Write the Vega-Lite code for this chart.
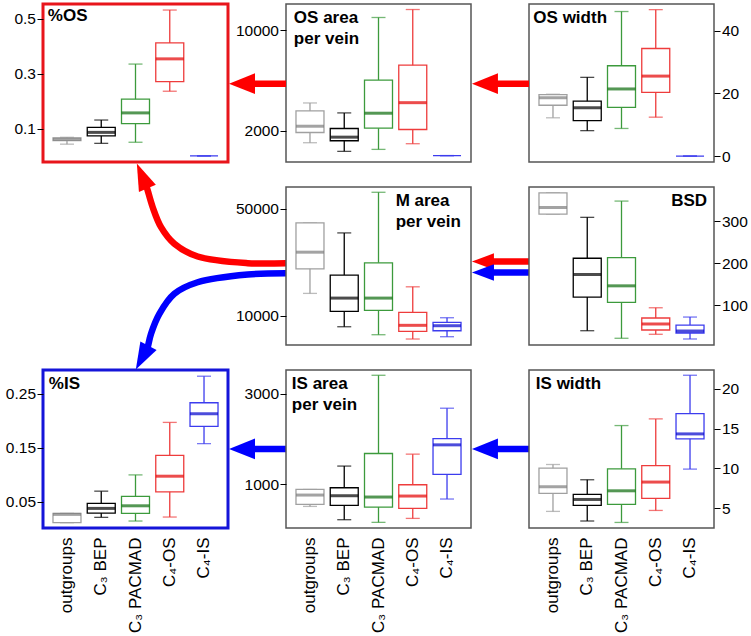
{
"$schema":"https://vega.github.io/schema/vega-lite/v6.json",
"padding":{"left":3,"top":2,"right":3,"bottom":1},
"background":"white",
"bounds":"flush",
"columns":3,
"spacing":{"row":25,"column":58},
"config":{
 "font":"Liberation Sans",
 "view":{"stroke":"#555555","strokeWidth":1.5},
 "axis":{"labelFont":"Liberation Sans","labelFontSize":15.5,"labelColor":"#000000","tickColor":"#000000","tickSize":6,"tickWidth":1,"labelPadding":1.5,"domain":false,"grid":false,"title":null},
 "text":{"font":"Liberation Sans","fontSize":17,"fontWeight":"bold","color":"#000000","baseline":"top","lineBreak":"\n","lineHeight":21}
},
"datasets":{
 "boxes":[
  {"panel":"pOS","group":"outgroups","lo":0.043,"q1":0.056,"med":0.061,"q3":0.066,"hi":0.068},
  {"panel":"pOS","group":"C₃ BEP","lo":0.046,"q1":0.073,"med":0.086,"q3":0.104,"hi":0.131},
  {"panel":"pOS","group":"C₃ PACMAD","lo":0.050,"q1":0.118,"med":0.157,"q3":0.207,"hi":0.335},
  {"panel":"pOS","group":"C₄-OS","lo":0.236,"q1":0.271,"med":0.354,"q3":0.412,"hi":0.532},
  {"panel":"pOS","group":"C₄-IS","lo":0,"q1":0,"med":null,"q3":0,"hi":0},
  {"panel":"aOS","group":"outgroups","lo":1026,"q1":1842,"med":2341,"q3":3560,"hi":4194},
  {"panel":"aOS","group":"C₃ BEP","lo":337,"q1":1184,"med":1470,"q3":2158,"hi":3402},
  {"panel":"aOS","group":"C₃ PACMAD","lo":495,"q1":2185,"med":3378,"q3":6015,"hi":11005},
  {"panel":"aOS","group":"C₄-OS","lo":947,"q1":2079,"med":4218,"q3":7203,"hi":11640},
  {"panel":"aOS","group":"C₄-IS","lo":0,"q1":0,"med":null,"q3":0,"hi":0},
  {"panel":"wOS","group":"outgroups","lo":12.2,"q1":16.2,"med":18.6,"q3":19.6,"hi":19.7},
  {"panel":"wOS","group":"C₃ BEP","lo":8.1,"q1":11.3,"med":15.4,"q3":17.5,"hi":25.1},
  {"panel":"wOS","group":"C₃ PACMAD","lo":8.8,"q1":15.5,"med":21.4,"q3":28.8,"hi":46.1},
  {"panel":"wOS","group":"C₄-OS","lo":12.4,"q1":20.3,"med":25.5,"q3":34.3,"hi":46.7},
  {"panel":"wOS","group":"C₄-IS","lo":0,"q1":0,"med":null,"q3":0,"hi":0},
  {"panel":"aM","group":"outgroups","lo":18340,"q1":27500,"med":33720,"q3":44630,"hi":44630},
  {"panel":"aM","group":"C₃ BEP","lo":5900,"q1":11640,"med":16590,"q3":25160,"hi":40910},
  {"panel":"aM","group":"C₃ PACMAD","lo":2925,"q1":12010,"med":16590,"q3":29740,"hi":56070},
  {"panel":"aM","group":"C₄-OS","lo":1320,"q1":4190,"med":6430,"q3":11270,"hi":20800},
  {"panel":"aM","group":"C₄-IS","lo":2180,"q1":4410,"med":6280,"q3":7540,"hi":9260},
  {"panel":"bsd","group":"outgroups","lo":316.6,"q1":316.6,"med":332.5,"q3":367,"hi":367},
  {"panel":"bsd","group":"C₃ BEP","lo":39,"q1":119,"med":172.8,"q3":211.5,"hi":308.8},
  {"panel":"bsd","group":"C₃ PACMAD","lo":21,"q1":106.4,"med":145.8,"q3":213,"hi":347.5},
  {"panel":"bsd","group":"C₄-OS","lo":30.5,"q1":40.7,"med":55,"q3":69.2,"hi":93.6},
  {"panel":"bsd","group":"C₄-IS","lo":19.3,"q1":33.6,"med":38.3,"q3":52.5,"hi":71.5},
  {"panel":"pIS","group":"outgroups","lo":0.0113,"q1":0.0113,"med":0.0267,"q3":0.0286,"hi":0.0286},
  {"panel":"pIS","group":"C₃ BEP","lo":0.0212,"q1":0.0291,"med":0.0378,"q3":0.047,"hi":0.0697},
  {"panel":"pIS","group":"C₃ PACMAD","lo":0.0144,"q1":0.0286,"med":0.0426,"q3":0.060,"hi":0.0998},
  {"panel":"pIS","group":"C₄-OS","lo":0.0218,"q1":0.0685,"med":0.0974,"q3":0.136,"hi":0.197},
  {"panel":"pIS","group":"C₄-IS","lo":0.1577,"q1":0.1897,"med":0.213,"q3":0.2334,"hi":0.2825},
  {"panel":"aIS","group":"outgroups","lo":504,"q1":548,"med":756,"q3":880,"hi":880},
  {"panel":"aIS","group":"C₃ BEP","lo":209,"q1":526,"med":741,"q3":918,"hi":1399},
  {"panel":"aIS","group":"C₃ PACMAD","lo":150,"q1":490,"med":712,"q3":1678,"hi":3414},
  {"panel":"aIS","group":"C₄-OS","lo":238,"q1":460,"med":734,"q3":985,"hi":1664},
  {"panel":"aIS","group":"C₄-IS","lo":668,"q1":1213,"med":1870,"q3":2010,"hi":2683},
  {"panel":"wIS","group":"outgroups","lo":4.58,"q1":6.84,"med":7.68,"q3":10.02,"hi":10.48},
  {"panel":"wIS","group":"C₃ BEP","lo":3.37,"q1":5.33,"med":6.08,"q3":6.71,"hi":8.56},
  {"panel":"wIS","group":"C₃ PACMAD","lo":3.19,"q1":5.45,"med":7.17,"q3":9.94,"hi":15.38},
  {"panel":"wIS","group":"C₄-OS","lo":4.70,"q1":6.21,"med":8.27,"q3":10.35,"hi":16.22},
  {"panel":"wIS","group":"C₄-IS","lo":9.90,"q1":13.71,"med":14.33,"q3":16.89,"hi":21.71}
 ],
 "labels":[
  {"panel":"pOS","anchor":"outgroups","label":"%OS"},
  {"panel":"aOS","anchor":"outgroups","label":"OS area\nper vein"},
  {"panel":"wOS","anchor":"outgroups","label":"OS width"},
  {"panel":"aM","anchor":"C₄-OS","label":"M area\nper vein"},
  {"panel":"bsd","anchor":"C₄-IS","label":"BSD"},
  {"panel":"pIS","anchor":"outgroups","label":"%IS"},
  {"panel":"aIS","anchor":"outgroups","label":"IS area\nper vein"},
  {"panel":"wIS","anchor":"outgroups","label":"IS width"}
 ],
 "arrowLines":[
  {"arrow":"tL","hue":"red","seq":1,"x":1.3135,"y":1.654},
  {"arrow":"tL","hue":"red","seq":2,"x":1.108,"y":1.654},
  {"arrow":"tR","hue":"red","seq":1,"x":2.627,"y":1.654},
  {"arrow":"tR","hue":"red","seq":2,"x":2.42,"y":1.654},
  {"arrow":"mR","hue":"red","seq":1,"x":2.627,"y":0.528},
  {"arrow":"mR","hue":"red","seq":2,"x":2.42,"y":0.528},
  {"arrow":"mB","hue":"blue","seq":1,"x":2.627,"y":0.459},
  {"arrow":"mB","hue":"blue","seq":2,"x":2.42,"y":0.459},
  {"arrow":"bL","hue":"blue","seq":1,"x":1.3135,"y":-0.658},
  {"arrow":"bL","hue":"blue","seq":2,"x":1.108,"y":-0.658},
  {"arrow":"bR","hue":"blue","seq":1,"x":2.627,"y":-0.658},
  {"arrow":"bR","hue":"blue","seq":2,"x":2.42,"y":-0.658},
  {"arrow":"cR","hue":"red","seq":1,"x":1.3135,"y":0.518},
  {"arrow":"cR","hue":"red","seq":2,"x":1.1065,"y":0.518},
  {"arrow":"cR","hue":"red","seq":3,"x":0.836,"y":0.560},
  {"arrow":"cR","hue":"red","seq":4,"x":0.710,"y":0.641},
  {"arrow":"cR","hue":"red","seq":5,"x":0.638,"y":0.746},
  {"arrow":"cR","hue":"red","seq":6,"x":0.593,"y":0.872},
  {"arrow":"cR","hue":"red","seq":7,"x":0.566,"y":0.978},
  {"arrow":"cR","hue":"red","seq":8,"x":0.558,"y":1.01},
  {"arrow":"cB","hue":"blue","seq":1,"x":1.3135,"y":0.454},
  {"arrow":"cB","hue":"blue","seq":2,"x":1.1065,"y":0.446},
  {"arrow":"cB","hue":"blue","seq":3,"x":0.836,"y":0.397},
  {"arrow":"cB","hue":"blue","seq":4,"x":0.710,"y":0.324},
  {"arrow":"cB","hue":"blue","seq":5,"x":0.629,"y":0.197},
  {"arrow":"cB","hue":"blue","seq":6,"x":0.584,"y":0.071},
  {"arrow":"cB","hue":"blue","seq":7,"x":0.566,"y":-0.014},
  {"arrow":"cB","hue":"blue","seq":8,"x":0.560,"y":-0.035}
 ],
 "arrowHeads":[
  {"head":"tL","hue":"red","kind":"left","x":1.0757,"y":1.654},
  {"head":"tR","hue":"red","kind":"left","x":2.389,"y":1.654},
  {"head":"mR","hue":"red","kind":"leftSmall","x":2.378,"y":0.528},
  {"head":"mB","hue":"blue","kind":"leftSmall","x":2.378,"y":0.459},
  {"head":"bL","hue":"blue","kind":"left","x":1.0757,"y":-0.658},
  {"head":"bR","hue":"blue","kind":"left","x":2.389,"y":-0.658},
  {"head":"cR","hue":"red","kind":"upCurve","x":0.5357,"y":1.070},
  {"head":"cB","hue":"blue","kind":"downCurve","x":0.536,"y":-0.080}
 ]
},
"concat":[
 {
  "width":185,"height":158,
  "view":{"stroke":"#e8151b","strokeWidth":3},
  "data":{"name":"boxes"},
  "transform":[{"filter":"datum.panel === 'pOS'"}],
  "encoding":{"x":{"field":"group","type":"nominal","sort":["outgroups","C₃ BEP","C₃ PACMAD","C₄-OS","C₄-IS"],"scale":{"type":"band","domain":["outgroups","C₃ BEP","C₃ PACMAD","C₄-OS","C₄-IS"],"paddingInner":0,"paddingOuter":0.2},"axis":null}},
  "layer":[
   {"mark":{"type":"rule","strokeWidth":1.3},"encoding":{"y":{"field":"lo","type":"quantitative","scale":{"domain":[-0.022,0.554],"nice":false,"zero":false},"axis":{"orient":"left","values":[0.1,0.3,0.5],"format":".1f","title":null}},"y2":{"field":"hi"},"color":{"field":"group","type":"nominal","scale":{"domain":["outgroups","C₃ BEP","C₃ PACMAD","C₄-OS","C₄-IS"],"range":["#a0a0a0","#000000","#3c9a3c","#ee3c3c","#3c3cee"]},"legend":null}}},
   {"mark":{"type":"tick","size":14,"thickness":1.3},"encoding":{"y":{"field":"lo","type":"quantitative"},"color":{"field":"group","type":"nominal","scale":{"domain":["outgroups","C₃ BEP","C₃ PACMAD","C₄-OS","C₄-IS"],"range":["#a0a0a0","#000000","#3c9a3c","#ee3c3c","#3c3cee"]},"legend":null}}},
   {"mark":{"type":"tick","size":14,"thickness":1.3},"encoding":{"y":{"field":"hi","type":"quantitative"},"color":{"field":"group","type":"nominal","scale":{"domain":["outgroups","C₃ BEP","C₃ PACMAD","C₄-OS","C₄-IS"],"range":["#a0a0a0","#000000","#3c9a3c","#ee3c3c","#3c3cee"]},"legend":null}}},
   {"mark":{"type":"bar","size":28,"fill":"#ffffff","strokeWidth":1.3},"encoding":{"y":{"field":"q1","type":"quantitative"},"y2":{"field":"q3"},"stroke":{"field":"group","type":"nominal","scale":{"domain":["outgroups","C₃ BEP","C₃ PACMAD","C₄-OS","C₄-IS"],"range":["#a0a0a0","#000000","#3c9a3c","#ee3c3c","#3c3cee"]},"legend":null}}},
   {"mark":{"type":"tick","size":28,"thickness":3},"encoding":{"y":{"field":"med","type":"quantitative"},"color":{"field":"group","type":"nominal","scale":{"domain":["outgroups","C₃ BEP","C₃ PACMAD","C₄-OS","C₄-IS"],"range":["#7c7c7c","#000000","#0b6b0b","#e40000","#0000cc"]},"legend":null}}},
   {"data":{"name":"labels"},"transform":[{"filter":"datum.panel === 'pOS'"}],"mark":{"type":"text","align":"left","dx":-2,"dy":4},"encoding":{"x":{"field":"anchor","type":"nominal","bandPosition":0},"y":{"datum":0.554,"type":"quantitative"},"text":{"field":"label"}}}
  ],
  "resolve":{"scale":{"color":"independent"}}
 },
 {
  "width":185,"height":158,
  "data":{"name":"boxes"},
  "transform":[{"filter":"datum.panel === 'aOS'"}],
  "encoding":{"x":{"field":"group","type":"nominal","sort":["outgroups","C₃ BEP","C₃ PACMAD","C₄-OS","C₄-IS"],"scale":{"type":"band","domain":["outgroups","C₃ BEP","C₃ PACMAD","C₄-OS","C₄-IS"],"paddingInner":0,"paddingOuter":0.2},"axis":null}},
  "layer":[
   {"mark":{"type":"rule","strokeWidth":1.3},"encoding":{"y":{"field":"lo","type":"quantitative","scale":{"domain":[-510,12080],"nice":false,"zero":false},"axis":{"orient":"left","values":[2000,10000],"format":"d","title":null}},"y2":{"field":"hi"},"color":{"field":"group","type":"nominal","scale":{"domain":["outgroups","C₃ BEP","C₃ PACMAD","C₄-OS","C₄-IS"],"range":["#a0a0a0","#000000","#3c9a3c","#ee3c3c","#3c3cee"]},"legend":null}}},
   {"mark":{"type":"tick","size":14,"thickness":1.3},"encoding":{"y":{"field":"lo","type":"quantitative"},"color":{"field":"group","type":"nominal","scale":{"domain":["outgroups","C₃ BEP","C₃ PACMAD","C₄-OS","C₄-IS"],"range":["#a0a0a0","#000000","#3c9a3c","#ee3c3c","#3c3cee"]},"legend":null}}},
   {"mark":{"type":"tick","size":14,"thickness":1.3},"encoding":{"y":{"field":"hi","type":"quantitative"},"color":{"field":"group","type":"nominal","scale":{"domain":["outgroups","C₃ BEP","C₃ PACMAD","C₄-OS","C₄-IS"],"range":["#a0a0a0","#000000","#3c9a3c","#ee3c3c","#3c3cee"]},"legend":null}}},
   {"mark":{"type":"bar","size":28,"fill":"#ffffff","strokeWidth":1.3},"encoding":{"y":{"field":"q1","type":"quantitative"},"y2":{"field":"q3"},"stroke":{"field":"group","type":"nominal","scale":{"domain":["outgroups","C₃ BEP","C₃ PACMAD","C₄-OS","C₄-IS"],"range":["#a0a0a0","#000000","#3c9a3c","#ee3c3c","#3c3cee"]},"legend":null}}},
   {"mark":{"type":"tick","size":28,"thickness":3},"encoding":{"y":{"field":"med","type":"quantitative"},"color":{"field":"group","type":"nominal","scale":{"domain":["outgroups","C₃ BEP","C₃ PACMAD","C₄-OS","C₄-IS"],"range":["#7c7c7c","#000000","#0b6b0b","#e40000","#0000cc"]},"legend":null}}},
   {"data":{"name":"labels"},"transform":[{"filter":"datum.panel === 'aOS'"}],"mark":{"type":"text","align":"left","dx":1,"dy":6},"encoding":{"x":{"field":"anchor","type":"nominal","bandPosition":0},"y":{"datum":12080,"type":"quantitative"},"text":{"field":"label"}}}
  ],
  "resolve":{"scale":{"color":"independent"}}
 },
 {
  "width":185,"height":158,
  "data":{"name":"boxes"},
  "transform":[{"filter":"datum.panel === 'wOS'"}],
  "encoding":{"x":{"field":"group","type":"nominal","sort":["outgroups","C₃ BEP","C₃ PACMAD","C₄-OS","C₄-IS"],"scale":{"type":"band","domain":["outgroups","C₃ BEP","C₃ PACMAD","C₄-OS","C₄-IS"],"paddingInner":0,"paddingOuter":0.2},"axis":null}},
  "layer":[
   {"mark":{"type":"rule","strokeWidth":1.3},"encoding":{"y":{"field":"lo","type":"quantitative","scale":{"domain":[-1.9,48.5],"nice":false,"zero":false},"axis":{"orient":"right","values":[0,20,40],"format":"d","title":null}},"y2":{"field":"hi"},"color":{"field":"group","type":"nominal","scale":{"domain":["outgroups","C₃ BEP","C₃ PACMAD","C₄-OS","C₄-IS"],"range":["#a0a0a0","#000000","#3c9a3c","#ee3c3c","#3c3cee"]},"legend":null}}},
   {"mark":{"type":"tick","size":14,"thickness":1.3},"encoding":{"y":{"field":"lo","type":"quantitative"},"color":{"field":"group","type":"nominal","scale":{"domain":["outgroups","C₃ BEP","C₃ PACMAD","C₄-OS","C₄-IS"],"range":["#a0a0a0","#000000","#3c9a3c","#ee3c3c","#3c3cee"]},"legend":null}}},
   {"mark":{"type":"tick","size":14,"thickness":1.3},"encoding":{"y":{"field":"hi","type":"quantitative"},"color":{"field":"group","type":"nominal","scale":{"domain":["outgroups","C₃ BEP","C₃ PACMAD","C₄-OS","C₄-IS"],"range":["#a0a0a0","#000000","#3c9a3c","#ee3c3c","#3c3cee"]},"legend":null}}},
   {"mark":{"type":"bar","size":28,"fill":"#ffffff","strokeWidth":1.3},"encoding":{"y":{"field":"q1","type":"quantitative"},"y2":{"field":"q3"},"stroke":{"field":"group","type":"nominal","scale":{"domain":["outgroups","C₃ BEP","C₃ PACMAD","C₄-OS","C₄-IS"],"range":["#a0a0a0","#000000","#3c9a3c","#ee3c3c","#3c3cee"]},"legend":null}}},
   {"mark":{"type":"tick","size":28,"thickness":3},"encoding":{"y":{"field":"med","type":"quantitative"},"color":{"field":"group","type":"nominal","scale":{"domain":["outgroups","C₃ BEP","C₃ PACMAD","C₄-OS","C₄-IS"],"range":["#7c7c7c","#000000","#0b6b0b","#e40000","#0000cc"]},"legend":null}}},
   {"data":{"name":"labels"},"transform":[{"filter":"datum.panel === 'wOS'"}],"mark":{"type":"text","align":"left","dx":-2.5,"dy":6},"encoding":{"x":{"field":"anchor","type":"nominal","bandPosition":0},"y":{"datum":48.5,"type":"quantitative"},"text":{"field":"label"}}}
  ],
  "resolve":{"scale":{"color":"independent"}}
 },
 {
  "width":185,"height":158,
  "view":{"stroke":null},
  "layer":[
   {"data":{"name":"arrowLines"},"mark":{"type":"line","strokeWidth":6.5,"interpolate":"catmull-rom","strokeCap":"butt"},
    "encoding":{"x":{"field":"x","type":"quantitative","scale":{"domain":[0,1],"nice":false,"zero":false},"axis":null},"y":{"field":"y","type":"quantitative","scale":{"domain":[0,1],"nice":false,"zero":false},"axis":null},"detail":{"field":"arrow","type":"nominal"},"order":{"field":"seq","type":"quantitative"},"color":{"field":"hue","type":"nominal","scale":{"domain":["red","blue"],"range":["#ff0000","#0000ff"]},"legend":null}}},
   {"data":{"name":"arrowHeads"},"transform":[{"filter":"datum.kind === 'left'"}],"mark":{"type":"point","shape":"M-1,0L1,-0.8L1,0.8Z","filled":true,"opacity":1,"size":676,"strokeWidth":0},
    "encoding":{"x":{"field":"x","type":"quantitative"},"y":{"field":"y","type":"quantitative"},"color":{"field":"hue","type":"nominal","scale":{"domain":["red","blue"],"range":["#ff0000","#0000ff"]},"legend":null}}},
   {"data":{"name":"arrowHeads"},"transform":[{"filter":"datum.kind === 'leftSmall'"}],"mark":{"type":"point","shape":"M-1,0L1,-0.75L1,0.75Z","filled":true,"opacity":1,"size":484,"strokeWidth":0},
    "encoding":{"x":{"field":"x","type":"quantitative"},"y":{"field":"y","type":"quantitative"},"color":{"field":"hue","type":"nominal","scale":{"domain":["red","blue"],"range":["#ff0000","#0000ff"]},"legend":null}}},
   {"data":{"name":"arrowHeads"},"transform":[{"filter":"datum.kind === 'upCurve'"}],"mark":{"type":"point","shape":"M0,-1L0.68,1L-0.68,1Z","filled":true,"opacity":1,"size":729,"strokeWidth":0,"angle":-23},
    "encoding":{"x":{"field":"x","type":"quantitative"},"y":{"field":"y","type":"quantitative"},"color":{"field":"hue","type":"nominal","scale":{"domain":["red","blue"],"range":["#ff0000","#0000ff"]},"legend":null}}},
   {"data":{"name":"arrowHeads"},"transform":[{"filter":"datum.kind === 'downCurve'"}],"mark":{"type":"point","shape":"M0,-1L0.68,1L-0.68,1Z","filled":true,"opacity":1,"size":729,"strokeWidth":0,"angle":208},
    "encoding":{"x":{"field":"x","type":"quantitative"},"y":{"field":"y","type":"quantitative"},"color":{"field":"hue","type":"nominal","scale":{"domain":["red","blue"],"range":["#ff0000","#0000ff"]},"legend":null}}}
  ]
 },
 {
  "width":185,"height":158,
  "data":{"name":"boxes"},
  "transform":[{"filter":"datum.panel === 'aM'"}],
  "encoding":{"x":{"field":"group","type":"nominal","sort":["outgroups","C₃ BEP","C₃ PACMAD","C₄-OS","C₄-IS"],"scale":{"type":"band","domain":["outgroups","C₃ BEP","C₃ PACMAD","C₄-OS","C₄-IS"],"paddingInner":0,"paddingOuter":0.2},"axis":null}},
  "layer":[
   {"mark":{"type":"rule","strokeWidth":1.3},"encoding":{"y":{"field":"lo","type":"quantitative","scale":{"domain":[-911,58040],"nice":false,"zero":false},"axis":{"orient":"left","values":[10000,50000],"format":"d","title":null}},"y2":{"field":"hi"},"color":{"field":"group","type":"nominal","scale":{"domain":["outgroups","C₃ BEP","C₃ PACMAD","C₄-OS","C₄-IS"],"range":["#a0a0a0","#000000","#3c9a3c","#ee3c3c","#3c3cee"]},"legend":null}}},
   {"mark":{"type":"tick","size":14,"thickness":1.3},"encoding":{"y":{"field":"lo","type":"quantitative"},"color":{"field":"group","type":"nominal","scale":{"domain":["outgroups","C₃ BEP","C₃ PACMAD","C₄-OS","C₄-IS"],"range":["#a0a0a0","#000000","#3c9a3c","#ee3c3c","#3c3cee"]},"legend":null}}},
   {"mark":{"type":"tick","size":14,"thickness":1.3},"encoding":{"y":{"field":"hi","type":"quantitative"},"color":{"field":"group","type":"nominal","scale":{"domain":["outgroups","C₃ BEP","C₃ PACMAD","C₄-OS","C₄-IS"],"range":["#a0a0a0","#000000","#3c9a3c","#ee3c3c","#3c3cee"]},"legend":null}}},
   {"mark":{"type":"bar","size":28,"fill":"#ffffff","strokeWidth":1.3},"encoding":{"y":{"field":"q1","type":"quantitative"},"y2":{"field":"q3"},"stroke":{"field":"group","type":"nominal","scale":{"domain":["outgroups","C₃ BEP","C₃ PACMAD","C₄-OS","C₄-IS"],"range":["#a0a0a0","#000000","#3c9a3c","#ee3c3c","#3c3cee"]},"legend":null}}},
   {"mark":{"type":"tick","size":28,"thickness":3},"encoding":{"y":{"field":"med","type":"quantitative"},"color":{"field":"group","type":"nominal","scale":{"domain":["outgroups","C₃ BEP","C₃ PACMAD","C₄-OS","C₄-IS"],"range":["#7c7c7c","#000000","#0b6b0b","#e40000","#0000cc"]},"legend":null}}},
   {"data":{"name":"labels"},"transform":[{"filter":"datum.panel === 'aM'"}],"mark":{"type":"text","align":"left","dx":0,"dy":6},"encoding":{"x":{"field":"anchor","type":"nominal","bandPosition":0},"y":{"datum":58040,"type":"quantitative"},"text":{"field":"label"}}}
  ],
  "resolve":{"scale":{"color":"independent"}}
 },
 {
  "width":185,"height":158,
  "data":{"name":"boxes"},
  "transform":[{"filter":"datum.panel === 'bsd'"}],
  "encoding":{"x":{"field":"group","type":"nominal","sort":["outgroups","C₃ BEP","C₃ PACMAD","C₄-OS","C₄-IS"],"scale":{"type":"band","domain":["outgroups","C₃ BEP","C₃ PACMAD","C₄-OS","C₄-IS"],"paddingInner":0,"paddingOuter":0.2},"axis":null}},
  "layer":[
   {"mark":{"type":"rule","strokeWidth":1.3},"encoding":{"y":{"field":"lo","type":"quantitative","scale":{"domain":[5,381],"nice":false,"zero":false},"axis":{"orient":"right","values":[100,200,300],"format":"d","title":null}},"y2":{"field":"hi"},"color":{"field":"group","type":"nominal","scale":{"domain":["outgroups","C₃ BEP","C₃ PACMAD","C₄-OS","C₄-IS"],"range":["#a0a0a0","#000000","#3c9a3c","#ee3c3c","#3c3cee"]},"legend":null}}},
   {"mark":{"type":"tick","size":14,"thickness":1.3},"encoding":{"y":{"field":"lo","type":"quantitative"},"color":{"field":"group","type":"nominal","scale":{"domain":["outgroups","C₃ BEP","C₃ PACMAD","C₄-OS","C₄-IS"],"range":["#a0a0a0","#000000","#3c9a3c","#ee3c3c","#3c3cee"]},"legend":null}}},
   {"mark":{"type":"tick","size":14,"thickness":1.3},"encoding":{"y":{"field":"hi","type":"quantitative"},"color":{"field":"group","type":"nominal","scale":{"domain":["outgroups","C₃ BEP","C₃ PACMAD","C₄-OS","C₄-IS"],"range":["#a0a0a0","#000000","#3c9a3c","#ee3c3c","#3c3cee"]},"legend":null}}},
   {"mark":{"type":"bar","size":28,"fill":"#ffffff","strokeWidth":1.3},"encoding":{"y":{"field":"q1","type":"quantitative"},"y2":{"field":"q3"},"stroke":{"field":"group","type":"nominal","scale":{"domain":["outgroups","C₃ BEP","C₃ PACMAD","C₄-OS","C₄-IS"],"range":["#a0a0a0","#000000","#3c9a3c","#ee3c3c","#3c3cee"]},"legend":null}}},
   {"mark":{"type":"tick","size":28,"thickness":3},"encoding":{"y":{"field":"med","type":"quantitative"},"color":{"field":"group","type":"nominal","scale":{"domain":["outgroups","C₃ BEP","C₃ PACMAD","C₄-OS","C₄-IS"],"range":["#7c7c7c","#000000","#0b6b0b","#e40000","#0000cc"]},"legend":null}}},
   {"data":{"name":"labels"},"transform":[{"filter":"datum.panel === 'bsd'"}],"mark":{"type":"text","align":"right","dx":0,"dy":6},"encoding":{"x":{"field":"anchor","type":"nominal","bandPosition":1},"y":{"datum":381,"type":"quantitative"},"text":{"field":"label"}}}
  ],
  "resolve":{"scale":{"color":"independent"}}
 },
 {
  "width":185,"height":158,
  "view":{"stroke":"#1515d9","strokeWidth":3},
  "data":{"name":"boxes"},
  "transform":[{"filter":"datum.panel === 'pIS'"}],
  "encoding":{"x":{"field":"group","type":"nominal","sort":["outgroups","C₃ BEP","C₃ PACMAD","C₄-OS","C₄-IS"],"scale":{"type":"band","domain":["outgroups","C₃ BEP","C₃ PACMAD","C₄-OS","C₄-IS"],"paddingInner":0,"paddingOuter":0.2},"axis":{"orient":"bottom","labelAngle":270,"labelFontSize":17,"ticks":false,"tickSize":0,"labelPadding":9,"title":null}}},
  "layer":[
   {"mark":{"type":"rule","strokeWidth":1.3},"encoding":{"y":{"field":"lo","type":"quantitative","scale":{"domain":[0.0015,0.294],"nice":false,"zero":false},"axis":{"orient":"left","values":[0.05,0.15,0.25],"format":".2f","title":null}},"y2":{"field":"hi"},"color":{"field":"group","type":"nominal","scale":{"domain":["outgroups","C₃ BEP","C₃ PACMAD","C₄-OS","C₄-IS"],"range":["#a0a0a0","#000000","#3c9a3c","#ee3c3c","#3c3cee"]},"legend":null}}},
   {"mark":{"type":"tick","size":14,"thickness":1.3},"encoding":{"y":{"field":"lo","type":"quantitative"},"color":{"field":"group","type":"nominal","scale":{"domain":["outgroups","C₃ BEP","C₃ PACMAD","C₄-OS","C₄-IS"],"range":["#a0a0a0","#000000","#3c9a3c","#ee3c3c","#3c3cee"]},"legend":null}}},
   {"mark":{"type":"tick","size":14,"thickness":1.3},"encoding":{"y":{"field":"hi","type":"quantitative"},"color":{"field":"group","type":"nominal","scale":{"domain":["outgroups","C₃ BEP","C₃ PACMAD","C₄-OS","C₄-IS"],"range":["#a0a0a0","#000000","#3c9a3c","#ee3c3c","#3c3cee"]},"legend":null}}},
   {"mark":{"type":"bar","size":28,"fill":"#ffffff","strokeWidth":1.3},"encoding":{"y":{"field":"q1","type":"quantitative"},"y2":{"field":"q3"},"stroke":{"field":"group","type":"nominal","scale":{"domain":["outgroups","C₃ BEP","C₃ PACMAD","C₄-OS","C₄-IS"],"range":["#a0a0a0","#000000","#3c9a3c","#ee3c3c","#3c3cee"]},"legend":null}}},
   {"mark":{"type":"tick","size":28,"thickness":3},"encoding":{"y":{"field":"med","type":"quantitative"},"color":{"field":"group","type":"nominal","scale":{"domain":["outgroups","C₃ BEP","C₃ PACMAD","C₄-OS","C₄-IS"],"range":["#7c7c7c","#000000","#0b6b0b","#e40000","#0000cc"]},"legend":null}}},
   {"data":{"name":"labels"},"transform":[{"filter":"datum.panel === 'pIS'"}],"mark":{"type":"text","align":"left","dx":-1,"dy":6},"encoding":{"x":{"field":"anchor","type":"nominal","bandPosition":0},"y":{"datum":0.294,"type":"quantitative"},"text":{"field":"label"}}}
  ],
  "resolve":{"scale":{"color":"independent"}}
 },
 {
  "width":185,"height":158,
  "data":{"name":"boxes"},
  "transform":[{"filter":"datum.panel === 'aIS'"}],
  "encoding":{"x":{"field":"group","type":"nominal","sort":["outgroups","C₃ BEP","C₃ PACMAD","C₄-OS","C₄-IS"],"scale":{"type":"band","domain":["outgroups","C₃ BEP","C₃ PACMAD","C₄-OS","C₄-IS"],"paddingInner":0,"paddingOuter":0.2},"axis":{"orient":"bottom","labelAngle":270,"labelFontSize":17,"ticks":false,"tickSize":0,"labelPadding":9,"title":null}}},
  "layer":[
   {"mark":{"type":"rule","strokeWidth":1.3},"encoding":{"y":{"field":"lo","type":"quantitative","scale":{"domain":[25,3531],"nice":false,"zero":false},"axis":{"orient":"left","values":[1000,3000],"format":"d","title":null}},"y2":{"field":"hi"},"color":{"field":"group","type":"nominal","scale":{"domain":["outgroups","C₃ BEP","C₃ PACMAD","C₄-OS","C₄-IS"],"range":["#a0a0a0","#000000","#3c9a3c","#ee3c3c","#3c3cee"]},"legend":null}}},
   {"mark":{"type":"tick","size":14,"thickness":1.3},"encoding":{"y":{"field":"lo","type":"quantitative"},"color":{"field":"group","type":"nominal","scale":{"domain":["outgroups","C₃ BEP","C₃ PACMAD","C₄-OS","C₄-IS"],"range":["#a0a0a0","#000000","#3c9a3c","#ee3c3c","#3c3cee"]},"legend":null}}},
   {"mark":{"type":"tick","size":14,"thickness":1.3},"encoding":{"y":{"field":"hi","type":"quantitative"},"color":{"field":"group","type":"nominal","scale":{"domain":["outgroups","C₃ BEP","C₃ PACMAD","C₄-OS","C₄-IS"],"range":["#a0a0a0","#000000","#3c9a3c","#ee3c3c","#3c3cee"]},"legend":null}}},
   {"mark":{"type":"bar","size":28,"fill":"#ffffff","strokeWidth":1.3},"encoding":{"y":{"field":"q1","type":"quantitative"},"y2":{"field":"q3"},"stroke":{"field":"group","type":"nominal","scale":{"domain":["outgroups","C₃ BEP","C₃ PACMAD","C₄-OS","C₄-IS"],"range":["#a0a0a0","#000000","#3c9a3c","#ee3c3c","#3c3cee"]},"legend":null}}},
   {"mark":{"type":"tick","size":28,"thickness":3},"encoding":{"y":{"field":"med","type":"quantitative"},"color":{"field":"group","type":"nominal","scale":{"domain":["outgroups","C₃ BEP","C₃ PACMAD","C₄-OS","C₄-IS"],"range":["#7c7c7c","#000000","#0b6b0b","#e40000","#0000cc"]},"legend":null}}},
   {"data":{"name":"labels"},"transform":[{"filter":"datum.panel === 'aIS'"}],"mark":{"type":"text","align":"left","dx":-1,"dy":6},"encoding":{"x":{"field":"anchor","type":"nominal","bandPosition":0},"y":{"datum":3531,"type":"quantitative"},"text":{"field":"label"}}}
  ],
  "resolve":{"scale":{"color":"independent"}}
 },
 {
  "width":185,"height":158,
  "data":{"name":"boxes"},
  "transform":[{"filter":"datum.panel === 'wIS'"}],
  "encoding":{"x":{"field":"group","type":"nominal","sort":["outgroups","C₃ BEP","C₃ PACMAD","C₄-OS","C₄-IS"],"scale":{"type":"band","domain":["outgroups","C₃ BEP","C₃ PACMAD","C₄-OS","C₄-IS"],"paddingInner":0,"paddingOuter":0.2},"axis":{"orient":"bottom","labelAngle":270,"labelFontSize":17,"ticks":false,"tickSize":0,"labelPadding":9,"title":null}}},
  "layer":[
   {"mark":{"type":"rule","strokeWidth":1.3},"encoding":{"y":{"field":"lo","type":"quantitative","scale":{"domain":[2.49,22.37],"nice":false,"zero":false},"axis":{"orient":"right","values":[5,10,15,20],"format":"d","title":null}},"y2":{"field":"hi"},"color":{"field":"group","type":"nominal","scale":{"domain":["outgroups","C₃ BEP","C₃ PACMAD","C₄-OS","C₄-IS"],"range":["#a0a0a0","#000000","#3c9a3c","#ee3c3c","#3c3cee"]},"legend":null}}},
   {"mark":{"type":"tick","size":14,"thickness":1.3},"encoding":{"y":{"field":"lo","type":"quantitative"},"color":{"field":"group","type":"nominal","scale":{"domain":["outgroups","C₃ BEP","C₃ PACMAD","C₄-OS","C₄-IS"],"range":["#a0a0a0","#000000","#3c9a3c","#ee3c3c","#3c3cee"]},"legend":null}}},
   {"mark":{"type":"tick","size":14,"thickness":1.3},"encoding":{"y":{"field":"hi","type":"quantitative"},"color":{"field":"group","type":"nominal","scale":{"domain":["outgroups","C₃ BEP","C₃ PACMAD","C₄-OS","C₄-IS"],"range":["#a0a0a0","#000000","#3c9a3c","#ee3c3c","#3c3cee"]},"legend":null}}},
   {"mark":{"type":"bar","size":28,"fill":"#ffffff","strokeWidth":1.3},"encoding":{"y":{"field":"q1","type":"quantitative"},"y2":{"field":"q3"},"stroke":{"field":"group","type":"nominal","scale":{"domain":["outgroups","C₃ BEP","C₃ PACMAD","C₄-OS","C₄-IS"],"range":["#a0a0a0","#000000","#3c9a3c","#ee3c3c","#3c3cee"]},"legend":null}}},
   {"mark":{"type":"tick","size":28,"thickness":3},"encoding":{"y":{"field":"med","type":"quantitative"},"color":{"field":"group","type":"nominal","scale":{"domain":["outgroups","C₃ BEP","C₃ PACMAD","C₄-OS","C₄-IS"],"range":["#7c7c7c","#000000","#0b6b0b","#e40000","#0000cc"]},"legend":null}}},
   {"data":{"name":"labels"},"transform":[{"filter":"datum.panel === 'wIS'"}],"mark":{"type":"text","align":"left","dx":0,"dy":6},"encoding":{"x":{"field":"anchor","type":"nominal","bandPosition":0},"y":{"datum":22.37,"type":"quantitative"},"text":{"field":"label"}}}
  ],
  "resolve":{"scale":{"color":"independent"}}
 }
]
}
